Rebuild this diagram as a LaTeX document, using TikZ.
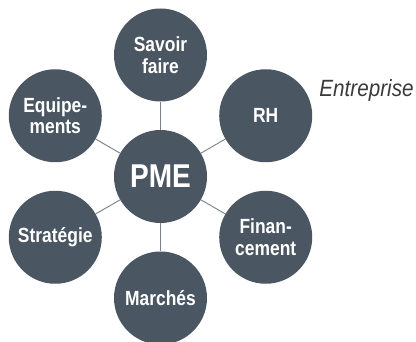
\documentclass[tikz,border=0pt]{standalone}
\usepackage{fontspec}
\setmainfont{Liberation Sans}
\newfontfamily\condfont[FakeStretch=0.85]{Liberation Sans}
\newfontfamily\entfont[FakeStretch=0.88]{Liberation Sans}
\usetikzlibrary{calc}
\definecolor{bubble}{HTML}{4A5661}
\definecolor{linkgray}{HTML}{7A7F84}
\definecolor{labgray}{HTML}{3A3A3A}
\begin{document}
\begin{tikzpicture}[x=1pt,y=1pt,
  bub/.style={circle,fill=bubble,minimum size=93pt,inner sep=0pt,text=white,align=center,
    font=\condfont\bfseries\fontsize{20.5}{21.5}\selectfont},
  hub/.style={bub,font=\condfont\bfseries\fontsize{33}{36}\selectfont},
  link/.style={draw=linkgray,line width=0.9pt}]
\useasboundingbox (0,0) rectangle (416,341);
\node[hub] (pme) at (160.5,164.5) {PME};
\node[bub] (sf) at ($(pme.center)+(90:121.5)$) {Savoir\\faire};
\node[bub] (rh) at ($(pme.center)+(30:121.5)$) {RH};
\node[bub] (fin) at ($(pme.center)+(-30:121.5)$) {Finan-\\cement};
\node[bub] (mar) at ($(pme.center)+(-90:121.5)$) {Marchés};
\node[bub] (str) at ($(pme.center)+(-150:121.5)$) {Stratégie};
\node[bub] (equ) at ($(pme.center)+(150:121.5)$) {Equipe-\\ments};
\foreach \n in {sf,rh,fin,mar,str,equ} \draw[link] (pme) -- (\n);
\node[text=labgray,font=\entfont\itshape\fontsize{23.5}{25}\selectfont] (ent) at (366.5,251) {Entreprise};
\end{tikzpicture}
\end{document}
